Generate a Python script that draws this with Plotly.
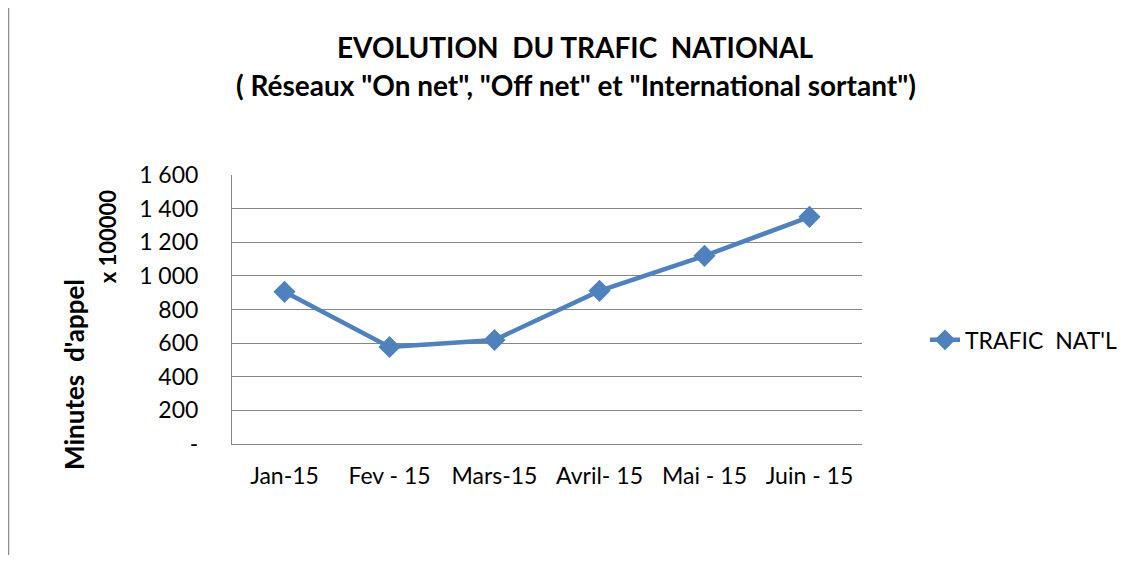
import plotly.graph_objects as go

categories = ["Jan-15", "Fev - 15", "Mars-15", "Avril- 15", "Mai - 15", "Juin - 15"]
trafic = [905, 577, 619, 911, 1119, 1351]
tick_vals = [0, 200, 400, 600, 800, 1000, 1200, 1400, 1600]
tick_text = ["-", "200", "400", "600", "800", "1 000", "1 200", "1 400", "1 600"]
series_name = "TRAFIC  NAT'L"

FONT = "Lato, 'Open Sans', sans-serif"
BLUE = "#4F81BD"

fig = go.Figure()
fig.add_trace(go.Scatter(
    x=categories, y=trafic, mode="lines+markers", name=series_name,
    line=dict(color=BLUE, width=4.5),
    marker=dict(symbol="diamond", size=17, color=BLUE),
))

fig.update_layout(
    width=1134, height=562,
    paper_bgcolor="white", plot_bgcolor="white",
    margin=dict(l=224, r=280, t=167, b=126),
    font=dict(family=FONT, size=22, color="#000000"),
    xaxis=dict(
        type="category", range=[-0.5, len(categories) - 0.5],
        showgrid=False, showline=True, linecolor="#868686", linewidth=1,
        ticks="", tickfont=dict(size=23), ticklabelstandoff=11,
    ),
    yaxis=dict(
        range=[0, 1600], tickvals=tick_vals, ticktext=tick_text,
        showgrid=True, gridcolor="#868686", gridwidth=1,
        showline=True, linecolor="#868686", linewidth=1, zeroline=False,
        ticks="", tickfont=dict(size=23), ticklabelstandoff=28,
    ),
    legend=dict(
        x=1.10, xanchor="left", y=0.387, yanchor="middle",
        font=dict(size=23), bgcolor="rgba(0,0,0,0)",
    ),
    showlegend=True,
)

fig.add_annotation(
    text="<b>EVOLUTION  DU TRAFIC  NATIONAL</b>", xref="paper", yref="paper",
    x=0.546, y=1.476, xanchor="center", yanchor="middle", showarrow=False,
    font=dict(family=FONT, size=28, color="#000000"),
)
fig.add_annotation(
    text="<b>( Réseaux \"On net\", \"Off net\" et \"International sortant\")</b>", xref="paper", yref="paper",
    x=0.546, y=1.335, xanchor="center", yanchor="middle", showarrow=False,
    font=dict(family=FONT, size=28, color="#000000"),
)
fig.add_annotation(
    text="<b>Minutes  d'appel</b>", textangle=-90, xref="paper", yref="paper",
    x=-0.251, y=0.26, xanchor="center", yanchor="middle", showarrow=False,
    font=dict(family=FONT, size=26, color="#000000"),
)
fig.add_annotation(
    text="<b>x 100000</b>", textangle=-90, xref="paper", yref="paper",
    x=-0.198, y=0.773, xanchor="center", yanchor="middle", showarrow=False,
    font=dict(family=FONT, size=22, color="#000000"),
)
fig.add_shape(
    type="line", xref="paper", yref="paper", x0=-0.3548, x1=-0.3548, y0=-0.413, y1=1.65,
    line=dict(color="#8c8c8c", width=1.5),
)

fig.write_html("out.html")
